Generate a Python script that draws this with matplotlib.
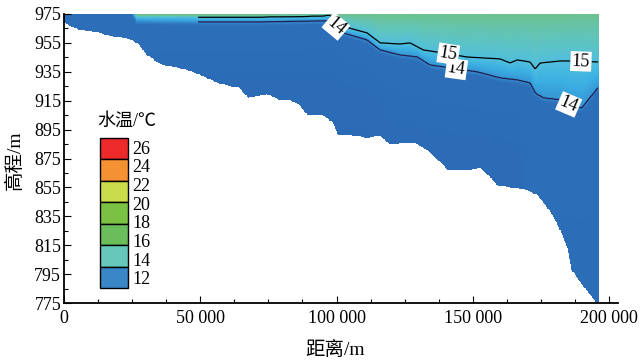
import numpy as np
import matplotlib
matplotlib.use('Agg')
import matplotlib.pyplot as plt
from matplotlib.colors import LinearSegmentedColormap
from matplotlib.patches import Rectangle
from matplotlib.ticker import MultipleLocator, FuncFormatter

plt.rcParams['font.family'] = ['Liberation Serif', 'Noto Sans CJK SC']

# river bed profile (distance m, elevation m)
bed_x = [0, 2200, 5900, 9500, 12100, 16900, 24200, 26800, 30500, 34100, 36300,
         42600, 47300, 52500, 57300, 64600, 67500, 74500, 79300, 82900, 86600,
         89200, 95100, 98400, 100600, 105000, 111200, 116000, 119600, 124400,
         128800, 133200, 138000, 140900, 147900, 152700, 155600, 158900, 162600,
         169900, 173600, 177300, 180900, 183100, 185000, 186400, 189400, 192300,
         195600]
bed_z = [969.5, 966.7, 963.9, 963.2, 962.5, 959.8, 957.7, 954.9, 946.6, 941.8,
         939.7, 937.6, 934.9, 930.7, 926.6, 923.8, 916.9, 919.6, 915.5, 915.5,
         912.0, 905.1, 905.1, 900.3, 891.3, 891.3, 889.2, 890.6, 885.0, 885.7,
         885.7, 880.9, 872.6, 867.0, 867.0, 868.4, 863.6, 856.7, 855.3, 853.2,
         849.7, 841.4, 830.4, 820.7, 811.7, 797.8, 789.5, 782.6, 775.0]

# elevation of the 15 degC isotherm
iso15_x = [0, 24200, 26800, 49900, 71900, 94000, 97600, 100600, 111200, 116000,
           123300, 127000, 131800, 139100, 147900, 160000, 163700, 166300,
           171000, 172900, 174700, 182000, 186800, 196000]
iso15_z = [981.0, 981.0, 972.9, 972.9, 972.9, 973.6, 974.3, 967.4, 961.9, 955.0,
           954.2, 955.0, 950.1, 948.0, 945.2, 943.9, 941.1, 943.2, 941.8, 936.9,
           941.1, 942.5, 942.5, 941.8]

# elevation of the 14 degC isotherm
iso14_x = [0, 24200, 26800, 49900, 71900, 94000, 97600, 102400, 111200, 116000,
           123300, 129600, 134300, 141700, 151600, 160000, 166300, 171000,
           172900, 175800, 182000, 186800, 190100, 193000, 194900, 196000]
iso14_z = [979.0, 979.0, 970.2, 969.5, 969.5, 970.2, 970.2, 961.9, 957.0, 950.1,
           946.6, 945.2, 939.7, 937.6, 934.9, 930.7, 929.3, 927.2, 920.3, 916.9,
           915.5, 910.6, 909.9, 916.9, 921.0, 923.8]

# surface and bottom water temperature along the reach
surf_x = [0, 24200, 26800, 97600, 100600, 196000]
surf_t = [15.5, 15.5, 18.0, 18.0, 16.9, 16.8]
deep_x = [0, 116000, 119600, 166300, 169900, 196000]
deep_t = [12.3, 12.3, 12.5, 12.5, 12.8, 12.8]

legend_colors = ['#ed2a2a', '#f39133', '#c9dc4b', '#7bc143', '#6abd5a',
                 '#66c8ba', '#3a87c8']
legend_labels = ['26', '24', '22', '20', '18', '16', '14', '12']

# build the temperature section
xg = np.arange(0, 196001, 400)
zg = np.arange(775, 975.01, 0.5)
X, Z = np.meshgrid(xg, zg)
bed = np.interp(xg, bed_x, bed_z)
z15 = np.interp(xg, iso15_x, iso15_z)
z14 = np.interp(xg, iso14_x, iso14_z)
ts = np.interp(xg, surf_x, surf_t)
tb = np.interp(xg, deep_x, deep_t)

T = np.empty_like(X, dtype=float)
for j in range(len(xg)):
    zp = [775, z14[j] - 3, z14[j], z15[j], max(975, z15[j] + 0.5)]
    tp = [tb[j], 12.9, 14, 15, ts[j]]
    T[:, j] = np.interp(zg, zp, tp)
T = np.ma.masked_where(Z < bed[None, :], T)

tmin, tmax = 12.0, 18.0
stops = [(12.0, '#2960ac'), (12.6, '#2b69b4'), (13.2, '#2e74bd'), (13.7, '#3282c8'),
         (14.0, '#3594d4'), (14.5, '#3cb0e2'), (15.0, '#50bedc'), (15.6, '#5cc3c6'),
         (16.2, '#64c4b0'), (16.8, '#6bc290'), (18.0, '#70c07a')]
cmap = LinearSegmentedColormap.from_list(
    'wt', [((v - tmin) / (tmax - tmin), c) for v, c in stops])

fig = plt.figure(figsize=(6.42, 3.61), dpi=100)
ax = fig.add_axes([64 / 642, 1 - 303 / 361, 554 / 642, 289 / 361])
ax.pcolormesh(xg, zg, T, cmap=cmap, vmin=tmin, vmax=tmax, shading='nearest')

sub = xg >= 49000
cs14 = ax.contour(xg[sub], zg, T[:, sub], levels=[14], colors='#231c4f', linewidths=0.9)
cs15 = ax.contour(xg[sub], zg, T[:, sub], levels=[15], colors='k', linewidths=0.9)
lab14 = ax.clabel(cs14, fmt='%d', fontsize=13, inline=True, inline_spacing=2,
                  manual=[(98700, 964.0), (143900, 935.0), (185700, 914.0)])
lab15 = ax.clabel(cs15, fmt='%d', fontsize=13, inline=True, inline_spacing=2,
                  manual=[(140900, 945.5), (189700, 942.0)])
for t in list(lab14) + list(lab15):
    t.set_fontfamily('Liberation Serif')
    t.set_color('k')
    t.set_bbox(dict(boxstyle='square,pad=0.08', fc='white', ec='none'))

ax.set_xlim(0, 203300)
ax.set_ylim(775, 975)
ax.xaxis.set_major_locator(MultipleLocator(50000))
ax.xaxis.set_minor_locator(MultipleLocator(12500))
ax.yaxis.set_major_locator(MultipleLocator(20, offset=15))
ax.yaxis.set_minor_locator(MultipleLocator(10, offset=5))
ax.xaxis.set_major_formatter(FuncFormatter(lambda v, p: '{:,}'.format(int(v)).replace(',', ' ')))
ax.yaxis.set_major_formatter(FuncFormatter(lambda v, p: '%d' % round(v)))
ax.tick_params(which='both', direction='in', width=0.8, labelsize=13)
ax.tick_params(which='major', length=5)
ax.tick_params(which='minor', length=3)
ax.tick_params(axis='y', pad=2)
ax.tick_params(axis='x', pad=5)
for s in ['top', 'right']:
    ax.spines[s].set_visible(False)
for s in ['left', 'bottom']:
    ax.spines[s].set_linewidth(1.3)

fig.text(335 / 642, 1 - 350 / 361, '距离/m', ha='center', va='center', fontsize=14)
fig.text(15 / 642, 1 - 160 / 361, '高程/m', ha='center', va='center', fontsize=14,
         rotation=90)

# legend block
fig.text(97 / 642, 1 - 121 / 361, '水温/℃', ha='left', va='center', fontsize=13)
box_top, box_h = 138, 150 / 7
for i, c in enumerate(legend_colors):
    y0 = box_top + i * box_h
    fig.add_artist(Rectangle((100 / 642, 1 - (y0 + box_h) / 361), 28 / 642, box_h / 361,
                             transform=fig.transFigure, fc=c, ec='k', lw=1.0))
for i, s in enumerate(legend_labels):
    fig.text(132 / 642, 1 - (149 + i * 18.7) / 361, s, ha='left', va='center', fontsize=13)

fig.savefig('out.png', dpi=100)
